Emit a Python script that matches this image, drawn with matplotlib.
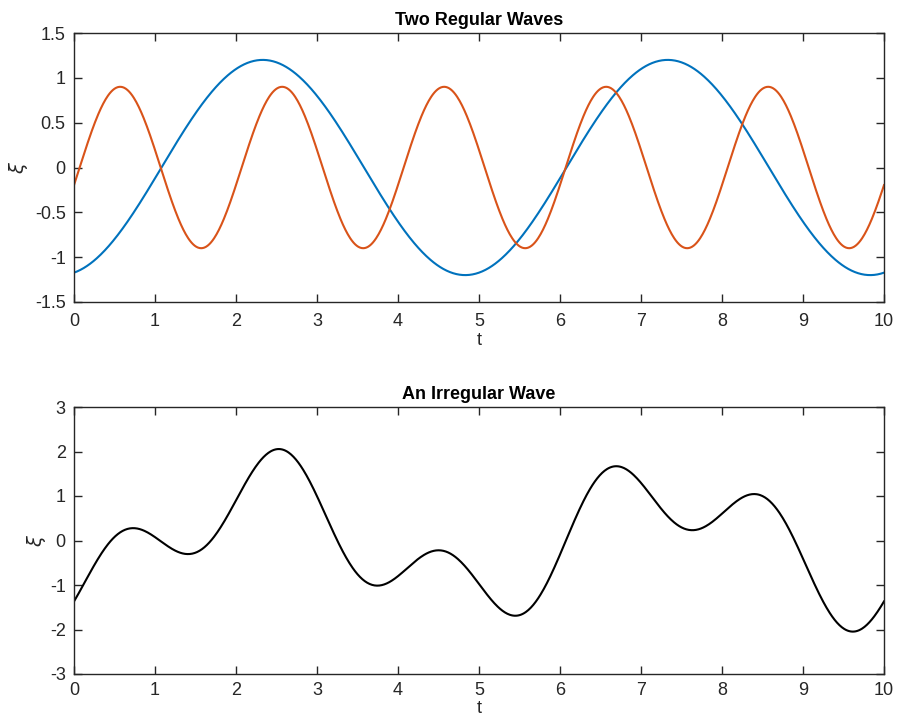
import numpy as np
import matplotlib
matplotlib.use("Agg")
import matplotlib.pyplot as plt

# Wave parameters
amplitudes = [1.2, 0.9]          # blue, orange
periods = [5.0, 2.0]
crest_times = [2.33, 0.57]       # time of a crest
colors = ["#0072BD", "#D95319"]
t_range = [0, 10]
top_yticks = [-1.5, -1, -0.5, 0, 0.5, 1, 1.5]
top_yticklabels = ["-1.5", "-1", "-0.5", "0", "0.5", "1", "1.5"]
bottom_yticks = [-3, -2, -1, 0, 1, 2, 3]
xticks = list(range(0, 11))
titles = ["Two Regular Waves", "An Irregular Wave"]

plt.rcParams['font.family'] = ['Liberation Sans', 'DejaVu Sans']
fig = plt.figure(figsize=(8.97, 7.17), dpi=100)
ax1 = fig.add_axes([74/897, 1-302/717, 810/897, 269/717])
ax2 = fig.add_axes([74/897, 1-674/717, 810/897, 267/717])

t = np.linspace(t_range[0], t_range[1], 1001)
waves = [a*np.cos(2*np.pi*(t-c)/p) for a, p, c in zip(amplitudes, periods, crest_times)]
for w, col in zip(waves, colors):
    ax1.plot(t, w, color=col, lw=1.5)
ax2.plot(t, waves[0]+waves[1], color='black', lw=1.5)

axc = '#262626'
for ax, title, yt, ylx, xly, xpad in [(ax1, titles[0], top_yticks, -0.054, -0.112, 8),
                                      (ax2, titles[1], bottom_yticks, -0.032, -0.099, 6)]:
    ax.set_xlim(*t_range)
    ax.set_ylim(yt[0], yt[-1])
    ax.set_xticks(xticks)
    ax.set_xticklabels([str(x) for x in xticks])
    ax.set_yticks(yt)
    ax.tick_params(direction='in', top=True, right=True, length=6, width=1,
                   labelsize=13, colors=axc)
    ax.tick_params(axis='x', pad=xpad)
    ax.tick_params(axis='y', pad=6)
    for s in ax.spines.values():
        s.set_color(axc)
        s.set_linewidth(1)
    ax.set_title(title, fontsize=13, fontweight='bold', color='black', pad=6)
    ax.set_xlabel('t', fontsize=13, color=axc)
    ax.xaxis.set_label_coords(0.5, xly)
    ax.set_ylabel(r'$\xi$', fontsize=14, color=axc)
    ax.yaxis.set_label_coords(ylx, 0.5)
ax1.set_yticklabels(top_yticklabels)
ax2.set_yticklabels([str(v) for v in bottom_yticks])

fig.savefig('out.png', dpi=100)
